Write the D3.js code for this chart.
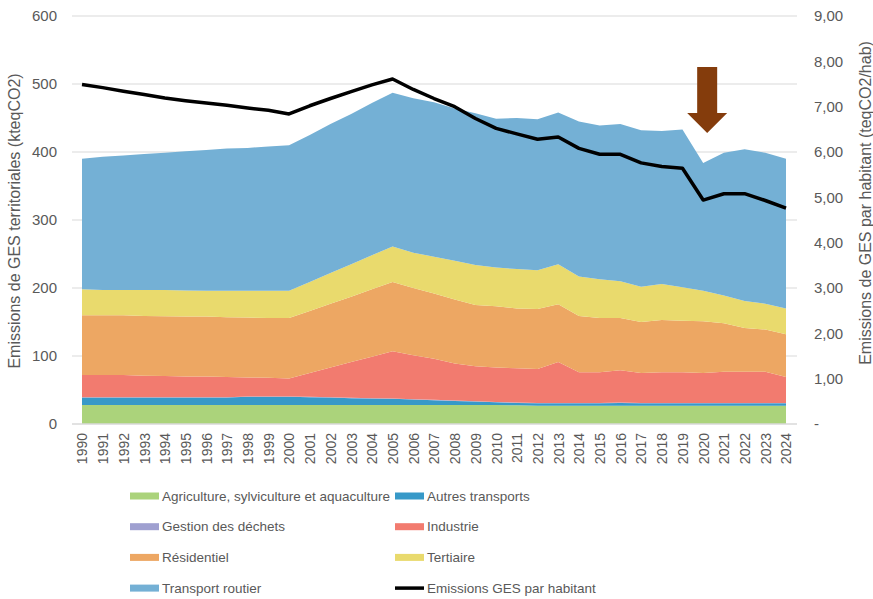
<!DOCTYPE html>
<html>
<head>
<meta charset="utf-8">
<script src="https://cdn.jsdelivr.net/npm/d3@7"></script>
<style>
  body { margin: 0; background: #fff; }
  text { fill: #595959; }
</style>
</head>
<body>
<svg width="873" height="599"></svg>
<script>
const years = d3.range(1990, 2025);

const agriculture = [28, 28, 28, 28, 28, 28, 28, 28, 28, 28, 28, 28, 28, 28, 28, 28, 28, 28, 28, 28, 28, 27.5, 27, 27, 27, 27, 27, 27, 27, 27, 27, 27, 27, 27, 27];
const autresTransports = [11, 11, 11, 11, 11, 11, 11, 11, 12, 12, 12, 11.5, 11, 10, 9.5, 9, 8, 7, 6, 5, 4, 3.5, 3.5, 3.5, 3.5, 3.5, 4, 3.5, 3.5, 3.5, 3.5, 3.5, 3.5, 3.5, 3.5];
const dechets = [0.5, 0.5, 0.5, 0.5, 0.5, 0.5, 0.5, 0.5, 0.5, 0.5, 0.5, 0.5, 0.5, 0.5, 0.5, 0.5, 0.5, 0.5, 0.5, 0.5, 0.5, 0.5, 0.5, 0.5, 0.5, 0.5, 0.5, 0.5, 0.5, 0.5, 0.5, 0.5, 0.5, 0.5, 0.5];
const industrie = [32.5, 32.5, 32.5, 31.5, 31, 30.5, 30.5, 29.5, 28, 27.5, 26.5, 35, 43.5, 52.5, 61, 69.5, 64.5, 60.5, 54.5, 51.5, 50.5, 50.5, 50, 60, 45, 45, 47.5, 44, 45, 45, 44, 46, 46, 46, 38];
const residentiel = [88, 88, 88, 88, 88, 88, 88, 88, 88, 88, 89, 91, 94, 96, 99, 102, 99, 96, 94, 90, 90, 88, 88, 85, 83, 80, 77, 75, 77, 76, 76, 71, 64, 62, 63];
const tertiaire = [38, 37, 37, 38, 38.5, 38.5, 38, 39, 39.5, 40, 40, 43, 45, 48, 50, 52, 52, 54, 57, 59, 57, 58, 57, 59, 58, 57, 54, 52, 53, 49, 45, 41, 40, 38, 38];
const transportRoutier = [192, 196, 198, 200, 202, 204.5, 207, 209, 210, 212, 214, 216, 219, 221, 224, 226, 227, 227, 224, 223, 219, 222, 222, 223, 228, 226, 231, 230, 225, 232, 188, 210, 223, 222, 220];
const parHabitant = [7.49, 7.42, 7.34, 7.27, 7.19, 7.13, 7.08, 7.03, 6.97, 6.92, 6.84, 7.02, 7.18, 7.33, 7.48, 7.61, 7.38, 7.18, 7.0, 6.74, 6.52, 6.40, 6.28, 6.33, 6.08, 5.95, 5.95, 5.76, 5.68, 5.64, 4.94, 5.08, 5.08, 4.93, 4.76];

const seriesNames = ["Agriculture, sylviculture et aquaculture", "Autres transports", "Gestion des déchets", "Industrie", "Résidentiel", "Tertiaire", "Transport routier"];
const seriesValues = [agriculture, autresTransports, dechets, industrie, residentiel, tertiaire, transportRoutier];
const colors = ["#abd37b", "#3799c8", "#9fa0d0", "#f27b6f", "#eda763", "#e9da6d", "#74b0d5"];
const lineName = "Emissions GES par habitant";

const leftTicks = [0, 100, 200, 300, 400, 500, 600];
const rightTicks = [0, 1, 2, 3, 4, 5, 6, 7, 8, 9];

(function () {
  const svg = d3.select("svg");
  const left = 72, right = 797, plotTop = 16, bottom = 424;
  const font = "Liberation Sans, Arial, sans-serif";

  const x = d3.scaleLinear().domain([1990, 2024]).range([82, 786]);
  const y = d3.scaleLinear().domain([0, 600]).range([bottom, plotTop]);
  const y2 = d3.scaleLinear().domain([0, 9]).range([bottom, plotTop]);

  // gridlines
  svg.append("g")
    .selectAll("line")
    .data(leftTicks.slice(1))
    .join("line")
    .attr("x1", left).attr("x2", right)
    .attr("y1", d => y(d)).attr("y2", d => y(d))
    .attr("stroke", "#d9d9d9").attr("stroke-width", 1);

  // stacked areas
  const table = years.map((yr, i) => {
    const row = { year: yr };
    seriesNames.forEach((n, k) => row[n] = seriesValues[k][i]);
    return row;
  });
  const stack = d3.stack().keys(seriesNames)(table);
  const area = d3.area()
    .x(d => x(d.data.year))
    .y0(d => y(d[0]))
    .y1(d => y(d[1]));
  svg.append("g")
    .selectAll("path")
    .data(stack)
    .join("path")
    .attr("d", area)
    .attr("fill", (d, i) => colors[i]);

  // baseline
  svg.append("line")
    .attr("x1", left).attr("x2", right)
    .attr("y1", y(0)).attr("y2", y(0))
    .attr("stroke", "#d9d9d9").attr("stroke-width", 1.5);

  // per habitant line
  const line = d3.line()
    .x((d, i) => x(years[i]))
    .y(d => y2(d));
  svg.append("path")
    .datum(parHabitant)
    .attr("d", line)
    .attr("fill", "none")
    .attr("stroke", "#000")
    .attr("stroke-width", 3.5)
    .attr("stroke-linejoin", "round");

  // left axis
  const yAxis = d3.axisLeft(y).tickValues(leftTicks).tickSize(0).tickPadding(0);
  svg.append("g")
    .attr("transform", "translate(57,0)")
    .call(yAxis)
    .call(g => g.select(".domain").remove())
    .selectAll("text")
    .attr("font-family", font)
    .attr("font-size", 15)
    .attr("fill", "#595959");

  // right axis
  const fmt = d => d === 0 ? "-" : d3.format(".2f")(d).replace(".", ",");
  const yAxis2 = d3.axisRight(y2).tickValues(rightTicks).tickFormat(fmt).tickSize(0).tickPadding(0);
  svg.append("g")
    .attr("transform", "translate(814,0)")
    .call(yAxis2)
    .call(g => g.select(".domain").remove())
    .selectAll("text")
    .attr("font-family", font)
    .attr("font-size", 15)
    .attr("fill", "#595959");

  // x axis
  const xAxis = d3.axisBottom(x).tickValues(years).tickFormat(d3.format("d")).tickSize(0).tickPadding(0);
  svg.append("g")
    .attr("transform", `translate(0,${bottom})`)
    .call(xAxis)
    .call(g => g.select(".domain").remove())
    .selectAll("text")
    .attr("font-family", font)
    .attr("font-size", 14)
    .attr("fill", "#595959")
    .attr("text-anchor", "end")
    .attr("dy", "0.35em")
    .attr("transform", "translate(0,9) rotate(-90)")
    .attr("x", 0).attr("y", 0);

  // axis titles
  svg.append("text")
    .attr("transform", "translate(20,221) rotate(-90)")
    .attr("text-anchor", "middle")
    .attr("font-family", font)
    .attr("font-size", 16)
    .text("Emissions de GES territoriales (kteqCO2)");
  svg.append("text")
    .attr("transform", "translate(871,203) rotate(-90)")
    .attr("text-anchor", "middle")
    .attr("font-family", font)
    .attr("font-size", 16)
    .text("Emissions de GES par habitant (teqCO2/hab)");

  // arrow annotation
  const ax = x(2020) + 4;
  svg.append("path")
    .attr("d", `M${ax - 10},67 H${ax + 10} V113 H${ax + 20} L${ax},133 L${ax - 20},113 H${ax - 10} Z`)
    .attr("fill", "#843c0c");

  // legend
  const legendItems = seriesNames.map((n, i) => ({ name: n, color: colors[i], type: "area" }))
    .concat([{ name: lineName, color: "#000", type: "line" }]);
  const legend = svg.append("g")
    .selectAll("g")
    .data(legendItems)
    .join("g")
    .attr("transform", (d, i) => `translate(${i % 2 === 0 ? 130 : 395},${496 + Math.floor(i / 2) * 30.7})`);
  legend.filter(d => d.type === "area").append("rect")
    .attr("x", 0).attr("y", -3.5).attr("width", 29).attr("height", 7)
    .attr("fill", d => d.color);
  legend.filter(d => d.type === "line").append("line")
    .attr("x1", 0).attr("x2", 29).attr("y1", 0).attr("y2", 0)
    .attr("stroke", "#000").attr("stroke-width", 3.5);
  legend.append("text")
    .attr("x", 32).attr("dy", "0.35em")
    .attr("font-family", font)
    .attr("font-size", 13.5)
    .text(d => d.name);
})();
</script>
</body>
</html>
